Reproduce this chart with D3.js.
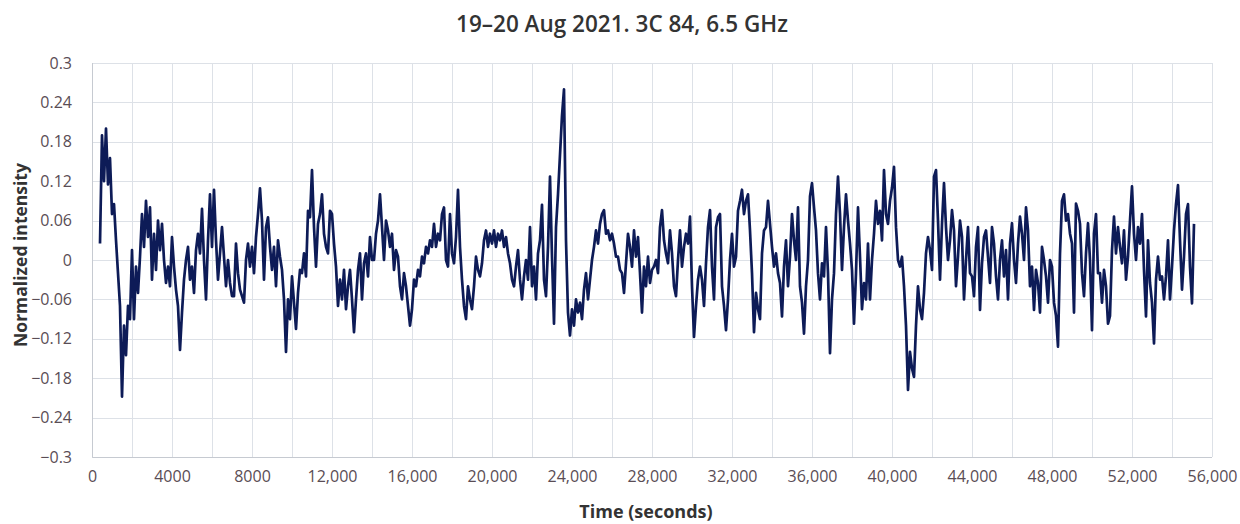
<!DOCTYPE html>
<html>
<head>
<meta charset="utf-8">
<script src="https://cdn.jsdelivr.net/npm/d3@7"></script>
<style>
  html, body { margin: 0; padding: 0; background: #fff; }
  svg { display: block; }
</style>
</head>
<body>
<script>
var chartTitle = '19–20 Aug 2021. 3C 84, 6.5 GHz';
var xAxisTitle = 'Time (seconds)';
var yAxisTitle = 'Normalized intensity';

var xTicks = [0, 4000, 8000, 12000, 16000, 20000, 24000, 28000, 32000, 36000, 40000, 44000, 48000, 52000, 56000];
var xTickLabels = ['0', '4000', '8000', '12,000', '16,000', '20,000', '24,000', '28,000', '32,000', '36,000', '40,000', '44,000', '48,000', '52,000', '56,000'];
var yTicks = [0.3, 0.24, 0.18, 0.12, 0.06, 0, -0.06, -0.12, -0.18, -0.24, -0.3];
var yTickLabels = ['0.3', '0.24', '0.18', '0.12', '0.06', '0', '\u22120.06', '\u22120.12', '\u22120.18', '\u22120.24', '\u22120.3'];

// samples every 100 s, first one at t = 400 s
var startTime = 400;
var sampleStep = 100;
var intensity = [
  0.025, 0.19, 0.12, 0.2, 0.115, 0.155,
  0.07, 0.085, 0.03, -0.02, -0.07, -0.208, -0.1, -0.145, -0.07, -0.09,
  0.015, -0.09, -0.01, -0.05, 0.005, 0.07, 0.02, 0.09, 0.035, 0.08,
  -0.03, 0.04, -0.015, 0.06, 0.015, 0.055, 0.0, -0.035, -0.01, -0.04,
  0.035, -0.01, -0.045, -0.07, -0.137, -0.08, -0.03, 0.0, 0.02, -0.03,
  -0.01, -0.05, 0.015, 0.04, 0.01, 0.078, 0.0, -0.06, 0.03, 0.1,
  0.02, 0.107, 0.03, -0.03, 0.01, 0.05, 0.005, -0.04, 0.0, -0.035,
  -0.055, -0.055, 0.025, -0.02, -0.045, -0.055, -0.065, 0.0, 0.025, -0.01,
  0.02, -0.02, 0.035, 0.07, 0.109, 0.06, -0.03, 0.05, 0.065, 0.02,
  -0.015, 0.02, -0.04, 0.03, 0.005, -0.015, -0.06, -0.14, -0.06, -0.09,
  -0.025, -0.065, -0.105, -0.05, -0.015, -0.02, 0.01, -0.025, 0.075, 0.065,
  0.137, 0.05, -0.01, 0.055, 0.07, 0.1, 0.04, 0.02, 0.01, 0.075,
  0.07, 0.025, -0.01, -0.07, -0.03, -0.06, -0.015, -0.075, -0.04, -0.015,
  -0.06, -0.11, -0.06, -0.015, 0.01, -0.06, -0.005, 0.01, -0.025, 0.035,
  0.0, 0.0, 0.04, 0.06, 0.1, 0.05, 0.0, 0.06, 0.045, 0.02,
  0.04, -0.015, 0.015, 0.005, -0.04, -0.06, -0.02, -0.04, -0.07, -0.1,
  -0.075, -0.03, -0.04, -0.015, -0.025, 0.005, -0.005, 0.02, 0.01, 0.03,
  0.02, 0.055, 0.02, 0.04, 0.03, 0.07, 0.08, 0.0, -0.01, 0.07,
  0.01, -0.005, 0.035, 0.107, 0.02, -0.03, -0.07, -0.09, -0.04, -0.06,
  -0.075, -0.04, 0.005, -0.015, -0.025, -0.005, 0.03, 0.045, 0.02, 0.04,
  0.025, 0.045, 0.02, 0.04, 0.03, 0.045, 0.02, 0.035, 0.01, -0.005,
  -0.03, -0.04, -0.01, 0.015, -0.03, -0.06, -0.025, 0.0, -0.03, 0.05,
  -0.04, -0.01, -0.06, 0.01, 0.03, 0.084, -0.03, -0.055, 0.02, 0.127,
  0.005, -0.097, 0.05, 0.1, 0.16, 0.22, 0.26, 0.03, -0.08, -0.115,
  -0.075, -0.1, -0.06, -0.08, -0.065, -0.09, -0.045, -0.02, -0.06, -0.03,
  0.0, 0.02, 0.045, 0.025, 0.055, 0.07, 0.076, 0.04, 0.045, 0.03,
  0.04, 0.025, 0.005, 0.005, -0.015, -0.02, -0.05, -0.005, 0.04, 0.02,
  -0.01, 0.045, 0.005, 0.035, -0.02, -0.08, -0.01, -0.04, 0.005, -0.035,
  -0.015, -0.01, 0.0, -0.02, 0.05, 0.076, 0.03, 0.01, -0.005, 0.045,
  0.01, -0.04, -0.055, 0.0, 0.045, -0.01, 0.02, 0.04, 0.025, 0.066,
  -0.04, -0.117, -0.07, -0.03, -0.01, -0.03, -0.07, -0.005, 0.05, 0.076,
  -0.01, -0.06, 0.05, 0.065, 0.07, -0.04, -0.07, -0.107, -0.06, 0.0,
  0.04, -0.01, 0.005, 0.075, 0.09, 0.107, 0.07, 0.09, 0.1, 0.045,
  -0.02, -0.11, -0.05, -0.075, -0.09, 0.01, 0.045, 0.05, 0.09, 0.055,
  0.02, -0.01, 0.01, -0.02, -0.035, -0.086, -0.01, 0.03, -0.04, 0.005,
  0.07, 0.03, 0.0, 0.08, -0.04, -0.065, -0.112, -0.04, 0.0, 0.097,
  0.117, 0.08, 0.045, -0.02, -0.06, -0.005, -0.025, 0.05, -0.02, -0.142,
  -0.06, -0.02, 0.07, 0.127, 0.07, -0.015, 0.05, 0.1, 0.06, 0.025,
  -0.015, -0.097, -0.02, 0.08, 0.005, -0.075, -0.035, -0.06, 0.025, -0.06,
  0.0, 0.04, 0.09, 0.055, 0.075, 0.03, 0.137, 0.07, 0.055, 0.09,
  0.11, 0.142, 0.05, 0.0, -0.01, 0.005, -0.04, -0.1, -0.198, -0.14,
  -0.165, -0.178, -0.1, -0.04, -0.075, -0.09, -0.05, 0.01, 0.035, 0.015,
  -0.015, 0.127, 0.137, 0.06, -0.03, 0.055, 0.117, 0.05, 0.0, 0.03,
  0.076, 0.045, -0.04, 0.005, 0.06, 0.035, -0.06, 0.0, 0.05, -0.02,
  -0.025, -0.055, 0.02, 0.05, -0.076, -0.005, 0.035, 0.045, 0.005, -0.035,
  0.05, 0.025, -0.025, -0.06, 0.0, 0.03, -0.025, 0.015, -0.06, 0.025,
  0.056, 0.0, -0.035, 0.025, 0.066, 0.04, 0.0, 0.08, 0.045, -0.04,
  -0.01, -0.076, -0.015, -0.035, -0.08, 0.02, 0.0, -0.025, -0.065, 0.0,
  -0.01, -0.065, -0.085, -0.132, 0.01, 0.09, 0.1, 0.06, 0.07, 0.04,
  0.025, -0.08, 0.086, 0.075, 0.055, -0.02, -0.055, 0.01, 0.056, 0.0,
  -0.107, 0.04, 0.07, -0.02, -0.02, -0.065, -0.015, -0.04, -0.097, -0.085,
  0.015, 0.066, 0.01, 0.05, 0.02, -0.005, 0.045, -0.03, 0.005, 0.06,
  0.112, 0.04, 0.0, 0.05, 0.025, 0.07, -0.015, -0.086, 0.03, -0.035,
  -0.065, -0.127, -0.03, 0.005, -0.03, -0.025, -0.06, -0.025, 0.03, -0.06,
  -0.01, 0.045, 0.085, 0.114, 0.03, -0.045, 0.005, 0.07, 0.085, -0.01,
  -0.066, 0.055
];

var Chart = {

  width: 1240,
  height: 524,
  plot: { left: 92, right: 1212, top: 63, bottom: 457 },
  font: '"Open Sans", "DejaVu Sans", sans-serif',
  labelColor: '#5a4d55',
  gridColor: '#dde1e7',

  svg: null,
  x: null,
  y: null,

  init: function () {

    this.svg = d3.select('body').append('svg')
      .attr('width', this.width)
      .attr('height', this.height)
      .style('font-family', this.font);

    this.x = d3.scaleLinear().domain([0, 56000]).range([this.plot.left, this.plot.right]);
    this.y = d3.scaleLinear().domain([-0.3, 0.3]).range([this.plot.bottom, this.plot.top]);

    this.drawGrid();
    this.drawAxes();
    this.drawSeries();
    this.drawTitles();
  },

  drawGrid: function () {
    var x = this.x, y = this.y, p = this.plot;
    var g = this.svg.append('g').attr('class', 'grid');

    // minor vertical lines every 2000 s
    g.selectAll('line.v')
      .data(d3.range(0, 56001, 2000))
      .enter().append('line')
      .attr('class', 'v')
      .attr('x1', function (d) { return Math.round(x(d)) + 0.5; })
      .attr('x2', function (d) { return Math.round(x(d)) + 0.5; })
      .attr('y1', p.top)
      .attr('y2', p.bottom)
      .style('stroke', this.gridColor)
      .style('stroke-width', 1);

    g.selectAll('line.h')
      .data(yTicks)
      .enter().append('line')
      .attr('class', 'h')
      .attr('x1', p.left)
      .attr('x2', p.right)
      .attr('y1', function (d) { return Math.round(y(d)) + 0.5; })
      .attr('y2', function (d) { return Math.round(y(d)) + 0.5; })
      .style('stroke', this.gridColor)
      .style('stroke-width', 1);

    // left and bottom frame are a bit darker
    g.append('path')
      .attr('d', 'M' + (p.left + 0.5) + ',' + p.top + 'V' + (p.bottom + 0.5) + 'H' + p.right)
      .style('fill', 'none')
      .style('stroke', '#c6cad1')
      .style('stroke-width', 1);
  },

  drawAxes: function () {
    var self = this;

    var xAxis = d3.axisBottom(this.x)
      .tickValues(xTicks)
      .tickFormat(function (d, i) { return xTickLabels[i]; })
      .tickSize(0)
      .tickPadding(14);

    var yAxis = d3.axisLeft(this.y)
      .tickValues(yTicks)
      .tickFormat(function (d, i) { return yTickLabels[i]; })
      .tickSize(0)
      .tickPadding(20);

    var gx = this.svg.append('g')
      .attr('transform', 'translate(0,' + this.plot.bottom + ')')
      .call(xAxis);

    var gy = this.svg.append('g')
      .attr('transform', 'translate(' + this.plot.left + ',0)')
      .call(yAxis);

    [gx, gy].forEach(function (g) {
      g.select('.domain').remove();
      g.selectAll('text')
        .style('font-family', self.font)
        .style('font-size', '16px')
        .style('fill', self.labelColor);
    });
  },

  drawSeries: function () {
    var x = this.x, y = this.y;

    var line = d3.line()
      .x(function (d, i) { return x(startTime + i * sampleStep); })
      .y(function (d) { return y(d); });

    this.svg.append('path')
      .datum(intensity)
      .attr('d', line)
      .style('fill', 'none')
      .style('stroke', '#0d1b57')
      .style('stroke-width', 2.7)
      .style('stroke-linejoin', 'round');
  },

  drawTitles: function () {

    this.svg.append('text')
      .attr('x', 622)
      .attr('y', 32)
      .attr('text-anchor', 'middle')
      .style('font-size', '22.5px')
      .style('font-weight', 600)
      .style('fill', '#333')
      .text(chartTitle);

    this.svg.append('text')
      .attr('x', 646)
      .attr('y', 518)
      .attr('text-anchor', 'middle')
      .style('font-size', '18px')
      .style('font-weight', 700)
      .style('fill', '#333')
      .text(xAxisTitle);

    this.svg.append('text')
      .attr('transform', 'translate(27,' + 255 + ') rotate(-90)')
      .attr('text-anchor', 'middle')
      .style('font-size', '17.5px')
      .style('font-weight', 700)
      .style('fill', '#333')
      .text(yAxisTitle);
  }
};

Chart.init();
</script>
</body>
</html>
